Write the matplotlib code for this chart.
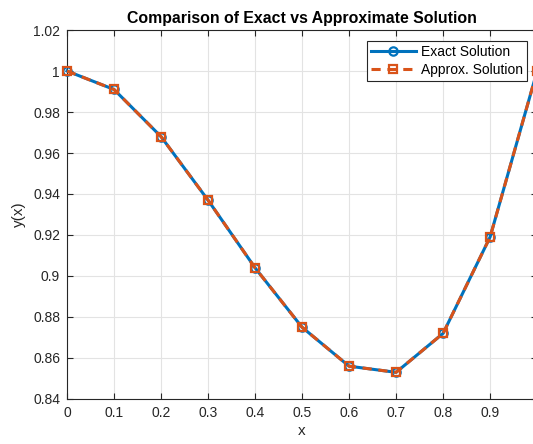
import matplotlib
matplotlib.use("Agg")
import matplotlib.pyplot as plt

x = [0.0, 0.1, 0.2, 0.3, 0.4, 0.5, 0.6, 0.7, 0.8, 0.9, 1.0]
y_exact = [1.0, 0.991, 0.968, 0.937, 0.904, 0.875, 0.856, 0.853, 0.872, 0.919, 1.0]
y_approx = [1.0, 0.991, 0.968, 0.937, 0.904, 0.875, 0.856, 0.853, 0.872, 0.919, 1.0]
xticks = [0, 0.1, 0.2, 0.3, 0.4, 0.5, 0.6, 0.7, 0.8, 0.9]
xticklabels = ["0", "0.1", "0.2", "0.3", "0.4", "0.5", "0.6", "0.7", "0.8", "0.9"]
yticks = [0.84, 0.86, 0.88, 0.9, 0.92, 0.94, 0.96, 0.98, 1.0, 1.02]
yticklabels = ["0.84", "0.86", "0.88", "0.9", "0.92", "0.94", "0.96", "0.98", "1", "1.02"]

plt.rcParams['font.family'] = ['Liberation Sans', 'DejaVu Sans']
fig = plt.figure(figsize=(5.33, 4.44), dpi=100)
ax = fig.add_axes([0.1257, 0.1014, 0.882, 0.831])

blue = '#0072BD'
orange = '#D95319'
ax.plot(x, y_exact, '-', color=blue, lw=2.2, marker='o', ms=6, mfc='none', mew=1.6,
        label='Exact Solution', clip_on=False, zorder=3)
ax.plot(x, y_approx, '--', color=orange, lw=2.2, marker='s', ms=6, mfc='none', mew=1.6,
        dashes=(3, 2.2), label='Approx. Solution', clip_on=False, zorder=4)

ax.set_xlim(0, 1)
ax.set_ylim(0.84, 1.02)
ax.set_xticks(xticks)
ax.set_xticklabels(xticklabels)
ax.set_yticks(yticks)
ax.set_yticklabels(yticklabels)
ax.tick_params(direction='in', top=True, right=True, labelsize=10, colors='#262626',
               length=4, width=0.8, pad=5)
for s in ax.spines.values():
    s.set_color('#262626')
    s.set_linewidth(0.8)
ax.grid(True, color='#e3e3e3', lw=0.8)
ax.set_axisbelow(True)

ax.set_title('Comparison of Exact vs Approximate Solution', fontsize=11.4, fontweight='bold', pad=5)
ax.set_xlabel('x', fontsize=11, color='#262626', labelpad=3)
ax.set_ylabel('y(x)', fontsize=11, color='#262626', labelpad=5)

leg = ax.legend(loc='upper right', bbox_to_anchor=(0.979, 0.97), fontsize=10, fancybox=False,
                edgecolor='#262626', framealpha=1, handlelength=3.2, borderpad=0.3,
                labelspacing=0.25, handletextpad=0.4, borderaxespad=0)
leg.get_frame().set_linewidth(0.8)

fig.savefig('out.png', dpi=100)
